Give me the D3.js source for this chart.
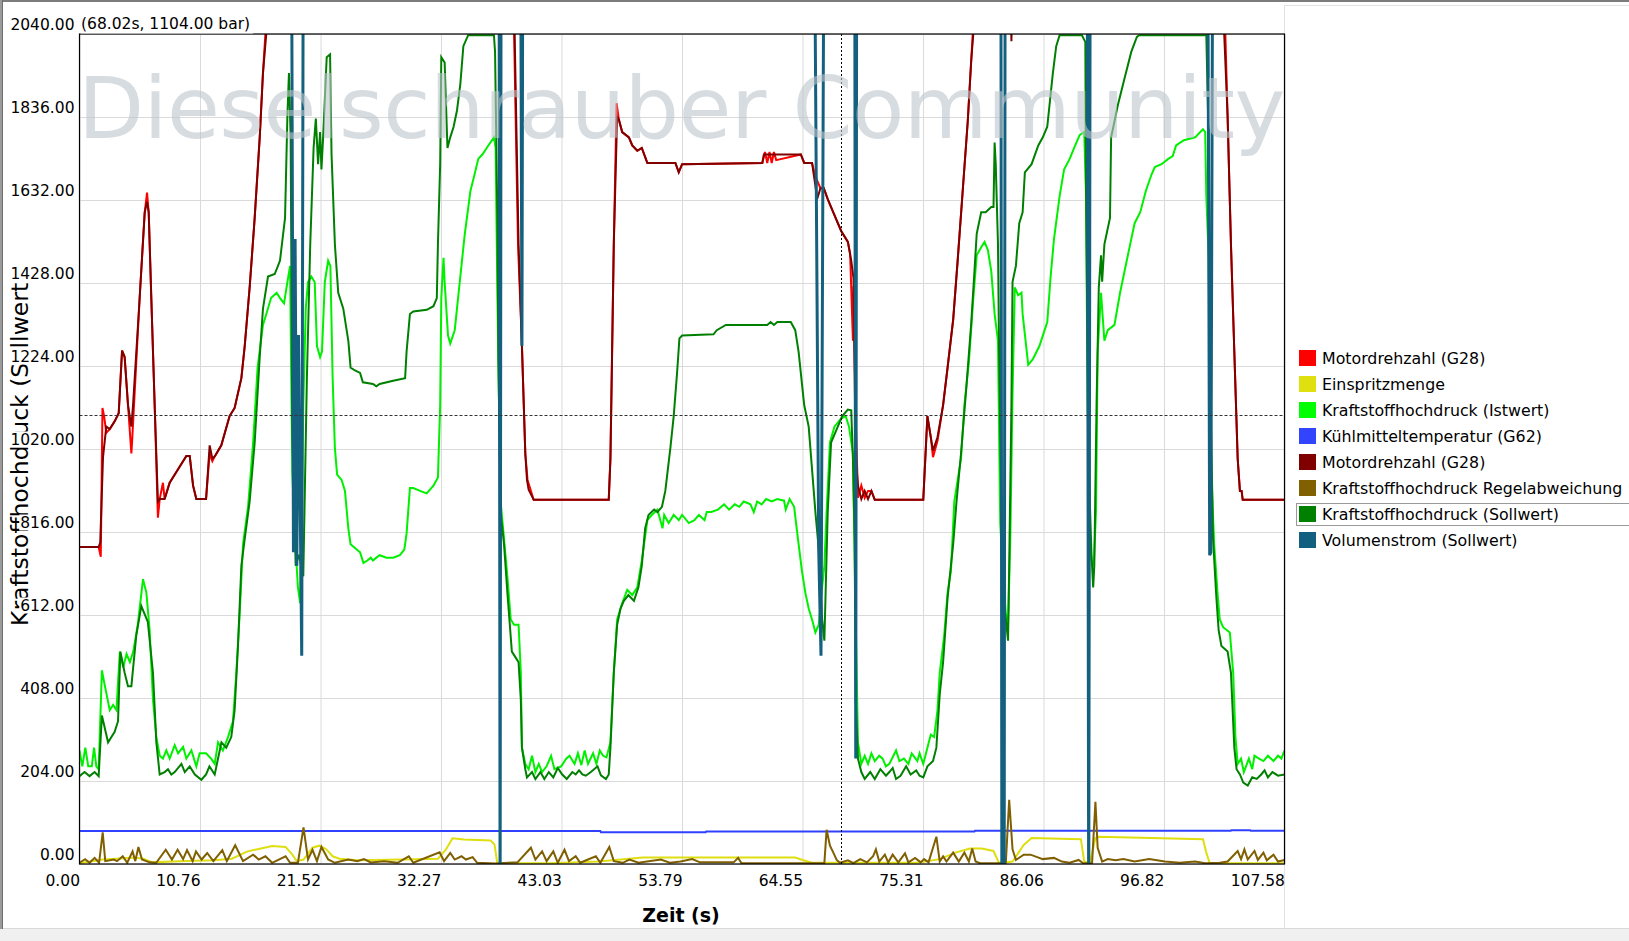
<!DOCTYPE html>
<html><head><meta charset="utf-8">
<script src="https://cdn.jsdelivr.net/npm/d3@7/dist/d3.min.js"></script>
<style>body{margin:0;background:#fff;overflow:hidden} text{font-family:"DejaVu Sans",sans-serif}</style>
</head><body><svg id="c" width="1629" height="941"></svg>
<script>
// ---------------- data ----------------
const xTicks = [0, 10.76, 21.52, 32.27, 43.03, 53.79, 64.55, 75.31, 86.06, 96.82, 107.58];
const yTicks = [0, 204, 408, 612, 816, 1020, 1224, 1428, 1632, 1836, 2040];
const seriesNames = ["Motordrehzahl (G28)", "Einspritzmenge", "Kraftstoffhochdruck (Istwert)", "Kühlmitteltemperatur (G62)", "Motordrehzahl (G28)", "Kraftstoffhochdruck Regelabweichung", "Kraftstoffhochdruck (Sollwert)", "Volumenstrom (Sollwert)"];
const cursorT = 68.02, cursorV = 1104.00;

const rpmRed = [[0,779],[1.71,779],[1.9,755],[2.05,1121],[2.2,1100],[2.39,1060],[2.7,1069],[3.14,1088],[3.5,1108],[3.8,1262],[4.03,1246],[4.33,1128],[4.63,1009],[4.7,1040],[5.37,1391],[5.82,1601],[6.03,1650],[6.18,1601],[6.41,1391],[6.71,1128],[7.0,851],[7.16,897],[7.45,937],[7.6,897],[8.05,937],[8.8,970],[9.54,1003],[9.84,1003],[10.14,930],[10.43,897],[11.3,897],[11.62,1010],[11.86,990],[12.1,1003],[12.66,1029],[13.4,1101],[13.85,1121],[14.45,1194],[14.75,1273],[15.19,1417],[15.64,1588],[16.09,1786],[16.38,1944],[16.6,2042],[17.2,2300],[20,2900],[30,3200],[37,2900],[38.5,2300],[38.8,2039],[39.15,1523],[39.5,1273],[39.8,1009],[40.0,944],[40.55,895],[47.25,895],[47.4,996],[47.55,1259],[47.7,1523],[47.95,1870],[48.15,1830],[48.45,1799],[49.05,1786],[49.35,1766],[49.8,1753],[50.2,1760],[50.7,1723],[53.2,1723],[53.5,1700],[53.8,1720],[60.96,1723],[61.2,1750],[61.4,1723],[61.6,1750],[61.8,1723],[62.0,1750],[62.2,1730],[64.4,1744],[64.7,1723],[65.4,1723],[65.6,1700],[65.85,1680],[66.15,1661],[66.45,1661],[66.8,1634],[67.4,1595],[68.0,1556],[68.6,1529],[68.8,1500],[69.05,1286],[69.1,1420],[69.3,1100],[69.5,900],[69.8,930],[70.1,900],[70.4,917],[70.7,917],[71.0,895],[75.33,895],[75.7,1101],[76.0,1049],[76.2,1000],[76.6,1040],[77.1,1128],[77.5,1220],[78.0,1338],[78.4,1483],[78.85,1654],[79.3,1825],[79.6,1970],[79.75,2042],[80.3,2400],[82,2800],[86,2900],[95,3100],[101.5,2600],[102.3,2039],[102.5,1838],[102.8,1523],[103.1,1259],[103.4,996],[103.6,917],[103.75,917],[103.85,895],[107.58,895]];

const injection = [[0,2],[2.1,11],[3.3,13],[4.9,16],[5.7,13],[6.5,4],[8.8,7],[12.0,9],[13.6,13],[15.0,31],[16.0,37],[17.2,44],[18.4,42],[19.0,23],[19.4,7],[20.0,11],[20.8,40],[21.4,45],[22.0,37],[22.6,19],[23.2,13],[24.8,9],[28.8,11],[32.0,13],[32.7,35],[33.3,63],[34.3,60],[36.7,58],[37.05,48],[37.3,2],[42.0,2],[46.3,6],[50.3,16],[55.4,16],[63.9,16],[64.55,10],[65.4,3],[74.8,3],[76.8,12],[78.2,28],[79.5,38],[80.55,38],[81.6,32],[82.1,2],[83.3,6],[84.3,47],[85.0,64],[89.4,61],[89.7,6],[90.2,2],[90.7,64],[91.0,67],[100.3,61],[100.6,28],[100.9,2],[107.58,2]];

const railActual = [[0,279],[0.25,240],[0.52,286],[0.78,240],[1.1,240],[1.3,286],[1.5,240],[1.71,233],[2.0,476],[2.25,440],[2.7,378],[3.0,391],[3.3,378],[3.6,522],[3.9,483],[4.2,516],[4.5,496],[4.8,522],[5.2,588],[5.67,700],[5.97,667],[6.26,575],[6.56,404],[6.86,312],[7.16,266],[7.45,259],[7.75,279],[8.05,259],[8.5,292],[8.8,272],[9.25,288],[9.54,259],[9.99,279],[10.43,240],[10.73,272],[11.3,272],[11.75,259],[12.07,246],[12.37,299],[12.8,279],[13.26,312],[13.7,351],[14.0,470],[14.3,615],[14.6,786],[15.05,878],[15.5,1036],[15.9,1220],[16.38,1325],[16.68,1352],[17.1,1391],[17.6,1404],[17.9,1391],[18.26,1378],[18.56,1430],[18.8,1470],[18.9,1207],[19.0,960],[19.33,759],[19.5,680],[19.7,641],[19.85,880],[19.98,1128],[20.2,1365],[20.4,1430],[20.7,1444],[21.0,1430],[21.2,1273],[21.48,1246],[21.65,1260],[21.9,1430],[22.2,1483],[22.4,1470],[22.6,1194],[22.8,1022],[23.0,957],[23.4,944],[23.7,917],[24.0,825],[24.2,786],[24.75,773],[25.05,766],[25.35,740],[25.7,746],[26.0,753],[26.2,746],[26.5,753],[26.8,759],[27.4,753],[28.0,753],[28.6,759],[29.0,773],[29.2,812],[29.5,924],[29.8,924],[30.4,917],[31.0,911],[31.6,930],[32.0,950],[32.2,1128],[32.3,1391],[32.5,1490],[32.6,1430],[32.9,1299],[33.1,1279],[33.5,1312],[34.0,1444],[34.4,1549],[34.9,1654],[35.2,1687],[35.6,1733],[36.0,1745],[36.5,1766],[37.0,1786],[37.15,1760],[37.3,1417],[37.4,1220],[37.6,891],[37.9,799],[38.2,707],[38.5,601],[38.8,588],[39.2,588],[39.4,470],[39.5,286],[39.8,246],[40.1,233],[40.4,266],[40.7,226],[41.0,246],[41.3,226],[41.7,240],[42.1,266],[42.4,233],[43.0,240],[43.45,259],[43.75,266],[44.2,246],[44.5,272],[44.8,243],[45.1,279],[45.4,246],[45.85,272],[46.15,246],[46.45,279],[46.75,266],[47.05,262],[47.4,299],[47.7,470],[48.0,601],[48.45,641],[48.9,674],[49.35,661],[49.8,680],[50.2,746],[50.7,845],[51.1,858],[51.6,871],[52.05,825],[52.2,858],[52.6,838],[53.05,858],[53.5,845],[53.8,858],[54.4,838],[54.9,845],[55.3,858],[55.8,845],[56.0,865],[56.4,865],[57.0,871],[57.55,884],[58.0,871],[58.5,884],[58.9,878],[59.3,891],[59.9,884],[60.2,865],[60.5,891],[60.9,884],[61.3,897],[61.8,891],[62.3,897],[62.9,893],[63.05,871],[63.4,897],[63.8,878],[64.2,786],[64.5,720],[64.8,667],[65.1,628],[65.4,601],[65.7,569],[66.0,588],[66.2,654],[66.5,733],[66.7,865],[67.0,1036],[67.4,1075],[68.0,1095],[68.4,1101],[68.7,1075],[69.05,1009],[69.3,601],[69.5,299],[69.8,246],[70.1,266],[70.4,246],[70.7,272],[71.0,253],[71.4,266],[71.7,259],[72.0,240],[72.3,246],[72.9,279],[73.2,253],[73.6,259],[74.0,246],[74.3,272],[74.8,253],[75.0,272],[75.33,246],[75.7,286],[76.0,318],[76.3,312],[76.6,378],[76.8,470],[77.2,562],[77.5,667],[77.8,720],[78.1,891],[78.4,944],[78.7,996],[79.0,1128],[79.4,1233],[79.8,1391],[80.1,1496],[80.5,1516],[80.8,1529],[81.1,1509],[81.4,1457],[81.7,1352],[82.0,1286],[82.2,838],[82.4,733],[82.7,615],[82.9,588],[83.1,799],[83.3,1154],[83.5,1417],[83.8,1398],[84.1,1404],[84.2,1352],[84.7,1227],[85.1,1240],[85.7,1273],[86.4,1332],[86.7,1444],[87.0,1536],[87.5,1641],[87.9,1707],[88.4,1733],[88.8,1760],[89.3,1792],[89.7,1799],[89.85,1654],[90.0,1141],[90.2,799],[90.35,746],[90.55,733],[90.75,865],[90.9,1259],[91.2,1404],[91.4,1325],[91.5,1286],[91.8,1312],[92.4,1325],[92.9,1404],[93.3,1457],[93.8,1523],[94.2,1575],[94.7,1602],[95.2,1654],[95.7,1694],[96.0,1713],[96.6,1720],[97.2,1733],[97.6,1740],[97.9,1766],[98.6,1779],[99.6,1786],[100.3,1806],[100.5,1799],[100.6,1641],[100.8,1496],[101.0,996],[101.3,786],[101.6,667],[101.8,601],[102.1,582],[102.7,569],[103.0,470],[103.2,312],[103.4,246],[103.7,259],[103.95,226],[104.4,259],[104.7,233],[104.9,266],[105.3,259],[105.7,253],[106.1,266],[106.6,253],[107.0,266],[107.3,259],[107.58,279]];

const coolant = [[0,81],[46.5,81],[46.55,78],[55.9,78],[55.95,80],[79.9,80],[79.95,82],[102.8,82],[102.85,83],[104.5,83],[104.55,82],[107.58,82]];

const rpmDark = [[0,779],[1.71,779],[1.85,790],[2.1,1000],[2.39,1075],[2.7,1069],[3.14,1088],[3.5,1108],[3.8,1262],[4.03,1246],[4.33,1128],[4.63,1075],[4.78,1128],[5.37,1391],[5.82,1601],[6.03,1628],[6.18,1601],[6.41,1391],[6.71,1128],[7.0,891],[7.16,897],[7.6,897],[8.05,937],[8.8,970],[9.54,1003],[9.84,1003],[10.14,930],[10.43,897],[11.3,897],[11.62,1029],[11.86,996],[12.1,1003],[12.66,1029],[13.4,1101],[13.85,1121],[14.45,1194],[14.75,1273],[15.19,1417],[15.64,1588],[16.09,1786],[16.38,1944],[16.68,2042],[17.2,2300],[20,2900],[30,3200],[37,2900],[38.5,2300],[38.85,2039],[39.2,1523],[39.5,1273],[39.8,1009],[39.95,944],[40.1,920],[40.55,895],[47.25,895],[47.4,996],[47.55,1259],[47.7,1523],[48.0,1838],[48.15,1830],[48.45,1799],[49.05,1786],[49.35,1766],[49.8,1753],[50.2,1760],[50.7,1723],[53.2,1723],[53.5,1700],[53.8,1720],[60.96,1723],[61.1,1744],[64.4,1744],[64.7,1723],[65.4,1723],[65.7,1667],[65.85,1634],[66.15,1661],[66.45,1661],[66.8,1634],[67.4,1595],[68.0,1556],[68.6,1529],[68.9,1483],[69.1,1440],[69.3,1000],[69.5,930],[69.8,897],[70.1,917],[70.4,897],[70.7,917],[71.0,895],[75.33,895],[75.7,1101],[76.0,1049],[76.2,1016],[76.6,1049],[77.1,1128],[77.5,1220],[78.0,1338],[78.4,1483],[78.85,1654],[79.3,1825],[79.6,1970],[79.8,2042],[80.3,2400],[82,2800],[83.0,2300],[83.2,2022],[83.4,2300],[86,2900],[95,3100],[101.5,2600],[102.2,2039],[102.5,1838],[102.8,1523],[103.1,1259],[103.4,996],[103.6,917],[103.75,917],[103.85,895],[107.58,895]];

const railDeviation = [[0,3],[0.5,12],[0.9,3],[1.35,15],[1.75,3],[2.07,78],[2.3,7],[3.07,11],[3.35,7],[3.86,19],[4.26,3],[4.74,31],[4.98,7],[5.26,42],[5.58,11],[6.25,4],[6.85,3],[7.7,35],[8.25,11],[8.76,35],[9.25,12],[9.6,34],[10.1,7],[10.4,31],[10.9,11],[11.4,27],[11.95,7],[12.75,34],[13.15,7],[13.9,46],[14.6,7],[15.5,23],[16.0,11],[16.6,19],[17.2,3],[18.4,19],[18.8,3],[19.5,3],[20.0,90],[20.4,11],[20.8,35],[21.2,7],[21.6,42],[22.2,11],[22.8,3],[24.0,11],[24.8,7],[25.4,12],[26.0,4],[27.2,7],[28.4,3],[29.4,19],[29.8,3],[32.15,29],[32.55,7],[33.1,27],[33.5,11],[34.1,19],[34.5,11],[35.1,17],[35.5,3],[37.1,1],[38.3,3],[39.1,4],[40.3,40],[40.7,11],[41.3,31],[41.7,7],[42.3,31],[42.7,3],[43.3,35],[43.7,7],[44.3,19],[44.7,3],[46.1,19],[46.5,3],[47.3,42],[47.7,7],[48.5,3],[49.1,11],[49.9,3],[51.9,11],[52.7,3],[53.66,6],[54.7,12],[55.4,4],[58.4,4],[58.8,15],[59.1,2],[63.9,2],[66.5,2],[66.7,84],[67.0,45],[67.3,28],[67.6,10],[67.9,3],[68.6,9],[69.1,2],[69.7,12],[70.3,4],[70.85,19],[71.1,36],[71.4,6],[71.9,23],[72.2,4],[72.6,23],[73.1,4],[73.4,15],[73.7,26],[74.0,4],[74.6,15],[75.1,4],[75.4,12],[75.8,4],[76.5,67],[76.8,6],[77.1,19],[77.4,6],[78.0,28],[78.5,6],[79.0,28],[79.4,6],[79.7,38],[80.0,6],[80.4,2],[82.0,2],[82.7,3],[83.0,158],[83.3,36],[83.6,10],[84.3,23],[84.9,23],[85.5,17],[86.0,12],[87.0,15],[87.7,6],[88.4,3],[89.2,10],[89.6,2],[90.4,2],[90.7,153],[90.9,40],[91.3,6],[91.8,12],[92.5,9],[93.2,12],[94.2,6],[95.5,12],[96.9,6],[98.2,3],[99.6,6],[100.5,2],[101.8,3],[102.5,6],[103.4,32],[103.7,12],[104.0,36],[104.3,11],[104.9,32],[105.2,10],[105.7,28],[106.0,9],[106.6,23],[107.0,6],[107.58,10]];

const railTarget = [[0,216],[0.45,226],[0.9,216],[1.35,226],[1.71,216],[2.0,365],[2.55,299],[3.14,325],[3.44,351],[3.65,522],[4.03,470],[4.33,437],[4.63,437],[5.07,562],[5.52,634],[6.1,595],[6.56,470],[6.86,299],[7.16,220],[7.6,226],[7.9,233],[8.2,220],[8.5,226],[9.1,246],[9.4,226],[9.84,240],[10.3,220],[10.88,207],[11.3,220],[11.6,240],[12.07,220],[12.67,299],[13.1,286],[13.55,312],[13.85,378],[14.15,536],[14.45,733],[14.75,799],[15.19,891],[15.64,1036],[16.09,1246],[16.38,1365],[16.83,1444],[17.43,1450],[17.72,1470],[17.9,1483],[18.35,1588],[18.56,1838],[18.7,1944],[18.85,1786],[19.0,1062],[19.3,733],[19.6,760],[19.98,707],[20.3,1194],[20.6,1523],[20.9,1760],[21.1,1832],[21.3,1720],[21.48,1799],[21.6,1707],[21.75,1786],[22.07,1983],[22.37,1990],[22.5,1746],[22.8,1523],[23.1,1404],[23.55,1365],[24.0,1286],[24.2,1220],[24.6,1213],[25.05,1207],[25.3,1184],[26.2,1180],[26.5,1174],[26.8,1180],[27.9,1187],[29.07,1194],[29.2,1259],[29.5,1352],[29.8,1358],[31.0,1362],[31.6,1371],[31.9,1391],[32.0,1523],[32.2,1720],[32.3,1983],[32.6,1970],[32.85,1760],[33.1,1786],[33.4,1812],[33.7,1852],[34.0,1917],[34.27,2010],[34.7,2037],[37.0,2037],[37.1,1996],[37.3,1601],[37.4,1233],[37.6,865],[37.7,838],[37.9,786],[38.2,667],[38.6,522],[38.9,509],[39.2,496],[39.4,404],[39.5,286],[39.8,233],[39.95,213],[40.4,226],[40.7,209],[41.15,226],[41.5,209],[41.9,226],[42.3,213],[42.7,236],[43.1,220],[43.5,209],[44.0,226],[44.3,220],[44.6,230],[44.9,220],[45.2,217],[45.65,226],[46.25,240],[46.55,218],[47.0,209],[47.25,220],[47.4,286],[47.7,470],[48.0,588],[48.3,628],[48.6,647],[49.0,661],[49.5,647],[49.9,680],[50.2,733],[50.5,825],[50.8,858],[51.3,871],[51.6,865],[52.0,878],[52.3,917],[52.75,1022],[53.05,1101],[53.35,1207],[53.56,1292],[53.8,1299],[56.6,1302],[56.9,1312],[57.7,1325],[61.4,1325],[61.7,1332],[62.0,1325],[62.3,1332],[63.5,1332],[63.9,1312],[64.2,1259],[64.5,1180],[64.7,1128],[65.1,1075],[65.4,970],[65.7,865],[66.0,773],[66.3,601],[66.5,549],[66.6,654],[66.8,865],[67.1,1036],[67.7,1075],[68.1,1101],[68.6,1117],[68.9,1115],[69.05,996],[69.2,799],[69.3,404],[69.5,259],[69.8,226],[70.1,209],[70.6,226],[71.0,209],[71.5,233],[72.0,217],[72.3,226],[72.6,236],[72.9,209],[73.3,217],[73.8,240],[74.2,220],[74.7,230],[75.0,217],[75.33,213],[75.7,240],[76.2,253],[76.5,286],[76.8,417],[77.1,496],[77.5,654],[78.0,786],[78.3,891],[78.7,1009],[79.2,1180],[79.6,1325],[79.9,1457],[80.1,1549],[80.5,1602],[80.9,1602],[81.4,1615],[81.6,1615],[81.7,1773],[81.8,1720],[82.0,1523],[82.1,1259],[82.3,865],[82.4,667],[82.7,601],[82.9,549],[83.0,733],[83.2,1128],[83.3,1431],[83.6,1470],[83.9,1575],[84.2,1602],[84.4,1700],[85.0,1720],[85.6,1766],[86.0,1786],[86.4,1812],[86.6,1865],[86.9,1944],[87.2,2010],[87.5,2037],[89.5,2037],[89.8,2020],[89.85,1681],[90.0,1259],[90.2,891],[90.35,759],[90.5,680],[90.6,733],[90.8,1128],[91.0,1417],[91.2,1496],[91.3,1431],[91.5,1523],[91.7,1549],[92.0,1588],[92.1,1786],[92.4,1825],[92.7,1865],[93.3,1931],[93.9,1996],[94.4,2033],[94.6,2037],[100.6,2037],[100.8,1786],[100.99,1128],[101.2,799],[101.5,654],[101.7,575],[101.95,536],[102.5,522],[102.8,470],[103.1,286],[103.3,233],[103.6,220],[103.9,200],[104.3,193],[104.7,213],[105.1,209],[105.5,220],[105.8,230],[106.1,213],[106.5,226],[107.0,217],[107.58,220]];

const volumeFlow = [[0,2600],[18.9,2600],[19.1,766],[19.25,1536],[19.4,733],[19.55,1300],[19.84,512],[20.0,2600],[37.45,2600],[37.55,-150],[37.65,2600],[39.35,2600],[39.5,1273],[39.6,2600],[65.55,2600],[66.0,766],[66.2,512],[66.5,2600],[69.2,2600],[69.3,259],[69.4,2600],[82.25,2600],[82.35,-150],[82.55,-150],[82.65,2600],[89.95,2600],[90.1,-150],[90.25,2600],[100.7,2600],[100.9,759],[101.0,766],[101.2,2600],[107.58,2600]];

// ---------------- drawing ----------------
const W = 1629, H = 941;
const L = 79.5, R = 1284.5, T = 34, B = 864;
const svg = d3.select("#c");
const x = d3.scaleLinear().domain([0, 107.58]).range([L, R]);
const y = d3.scaleLinear().domain([0, 2040]).range([B, T]);

// window frame
svg.append("rect").attr("x",0).attr("y",0).attr("width",W).attr("height",H).attr("fill","#fff");
svg.append("rect").attr("x",0).attr("y",928).attr("width",W).attr("height",H-928).attr("fill","#f0f0f0");
svg.append("line").attr("x1",0).attr("x2",W).attr("y1",928.5).attr("y2",928.5).attr("stroke","#d9d9d9");
svg.append("rect").attr("x",0).attr("y",0).attr("width",W).attr("height",2).attr("fill","#7c7c7c");
svg.append("rect").attr("x",0).attr("y",0).attr("width",3).attr("height",929).attr("fill","#9a9a9a");
svg.append("rect").attr("x",2).attr("y",0).attr("width",1).attr("height",929).attr("fill","#6f6f6f");
// legend panel border
svg.append("line").attr("x1",1284.5).attr("x2",1284.5).attr("y1",5).attr("y2",928).attr("stroke","#e2e2e2");
svg.append("line").attr("x1",1284.5).attr("x2",W).attr("y1",5.5).attr("y2",5.5).attr("stroke","#e2e2e2");

// grid
svg.append("g").attr("transform",`translate(0,${B})`)
  .call(d3.axisBottom(x).tickValues(xTicks).tickSize(-(B-T)).tickFormat(""))
  .call(g => { g.select(".domain").remove(); g.selectAll("line").attr("stroke","#dadada"); });
svg.append("g").attr("transform",`translate(${L},0)`)
  .call(d3.axisLeft(y).tickValues(yTicks).tickSize(-(R-L)).tickFormat(""))
  .call(g => { g.select(".domain").remove(); g.selectAll("line").attr("stroke","#dadada"); });

// clip
svg.append("defs").append("clipPath").attr("id","plotclip")
  .append("rect").attr("x",L).attr("y",T).attr("width",R-L).attr("height",B-T);

const line = d3.line().x(d => x(d[0])).y(d => y(d[1]));
const series = [
  {data: rpmRed, color: "#ff0000", w: 2},
  {data: injection, color: "#dede10", w: 2},
  {data: railActual, color: "#00f000", w: 2},
  {data: coolant, color: "#3040ff", w: 2},
  {data: rpmDark, color: "#800000", w: 2},
  {data: railDeviation, color: "#7f5f00", w: 2},
  {data: railTarget, color: "#008000", w: 2},
  {data: volumeFlow, color: "#14607f", w: 3}
];
const legendColors = ["#ff0000","#e0e010","#00ff00","#3344ff","#800000","#806000","#008000","#135f7f"];
const pg = svg.append("g").attr("clip-path","url(#plotclip)");
series.forEach(s => {
  pg.append("path").datum(s.data).attr("d", line).attr("fill","none")
    .attr("stroke", s.color).attr("stroke-width", s.w).attr("stroke-linejoin","miter").attr("stroke-linecap","butt");
});

// cursor
pg.append("line").attr("x1",Math.round(x(cursorT))+0.5).attr("x2",Math.round(x(cursorT))+0.5).attr("y1",T).attr("y2",B)
  .attr("stroke","#000").attr("stroke-dasharray","2,2");
pg.append("line").attr("x1",L).attr("x2",R).attr("y1",Math.round(y(cursorV))+0.5).attr("y2",Math.round(y(cursorV))+0.5)
  .attr("stroke","#333").attr("stroke-dasharray","3,2");

// watermark
pg.append("text").attr("x",78).attr("y",138).attr("font-size",86).attr("letter-spacing",-0.6)
  .attr("fill","#bcc4cc").attr("fill-opacity",0.6).text("Dieselschrauber Community");

// plot border
svg.append("rect").attr("x",L).attr("y",T).attr("width",R-L).attr("height",B-T)
  .attr("fill","none").attr("stroke","#000").attr("stroke-width",1.2);

// y title (drawn under tick labels)
svg.append("text").attr("transform","translate(28,626) rotate(-90)").attr("font-size",23.5)
  .attr("fill","#000").text("Kraftstoffhochdruck (Sollwert)");

// y tick labels with white background
const yAx = svg.append("g").attr("transform",`translate(${L},0)`)
  .call(d3.axisLeft(y).tickValues(yTicks).tickSize(0).tickPadding(5).tickFormat(d3.format(".2f")));
yAx.select(".domain").remove();
yAx.selectAll("text").attr("dy",-5).attr("font-size",15.5).attr("font-family","DejaVu Sans").attr("fill","#000");
yAx.selectAll(".tick").each(function(){
  const t = d3.select(this).select("text");
  const bb = t.node().getBBox();
  d3.select(this).insert("rect","text").attr("x",bb.x-1).attr("y",bb.y+1).attr("width",bb.width+2).attr("height",bb.height-2).attr("fill","#fff");
});

// x tick labels (right-aligned at grid line)
const xAx = svg.append("g").attr("transform",`translate(0,${B})`)
  .call(d3.axisBottom(x).tickValues(xTicks).tickSize(0).tickFormat(d3.format(".2f")));
xAx.select(".domain").remove();
xAx.selectAll("text").attr("text-anchor","end").attr("x",0).attr("y",22).attr("dy",0)
  .attr("font-size",15.5).attr("font-family","DejaVu Sans").attr("fill","#000");

// cursor readout label
const cl = svg.append("g");
const ctext = cl.append("text").attr("x",81).attr("y",29).attr("font-size",15.5).attr("fill","#000")
  .text(`(${cursorT.toFixed(2)}s, ${cursorV.toFixed(2)} bar)`);
const cb = ctext.node().getBBox();
cl.insert("rect","text").attr("x",L+1).attr("y",cb.y).attr("width",cb.x+cb.width-L+2).attr("height",T-cb.y-0.5).attr("fill","#fff");

// x title
svg.append("text").attr("x",681).attr("y",922).attr("text-anchor","middle").attr("font-size",19)
  .attr("font-weight","bold").attr("fill","#000").text("Zeit (s)");

// legend
const lg = svg.append("g");
lg.append("rect").attr("x",1296.5).attr("y",503.5).attr("width",340).attr("height",22)
  .attr("fill","none").attr("stroke","#9a9a9a");
seriesNames.forEach((n,i) => {
  const cy = 358 + i*26;
  lg.append("rect").attr("x",1299).attr("y",cy-8).attr("width",17).attr("height",16).attr("fill",legendColors[i]);
  lg.append("text").attr("x",1322).attr("y",cy+6).attr("font-size",15.8).attr("fill","#000").text(n);
});
</script></body></html>
